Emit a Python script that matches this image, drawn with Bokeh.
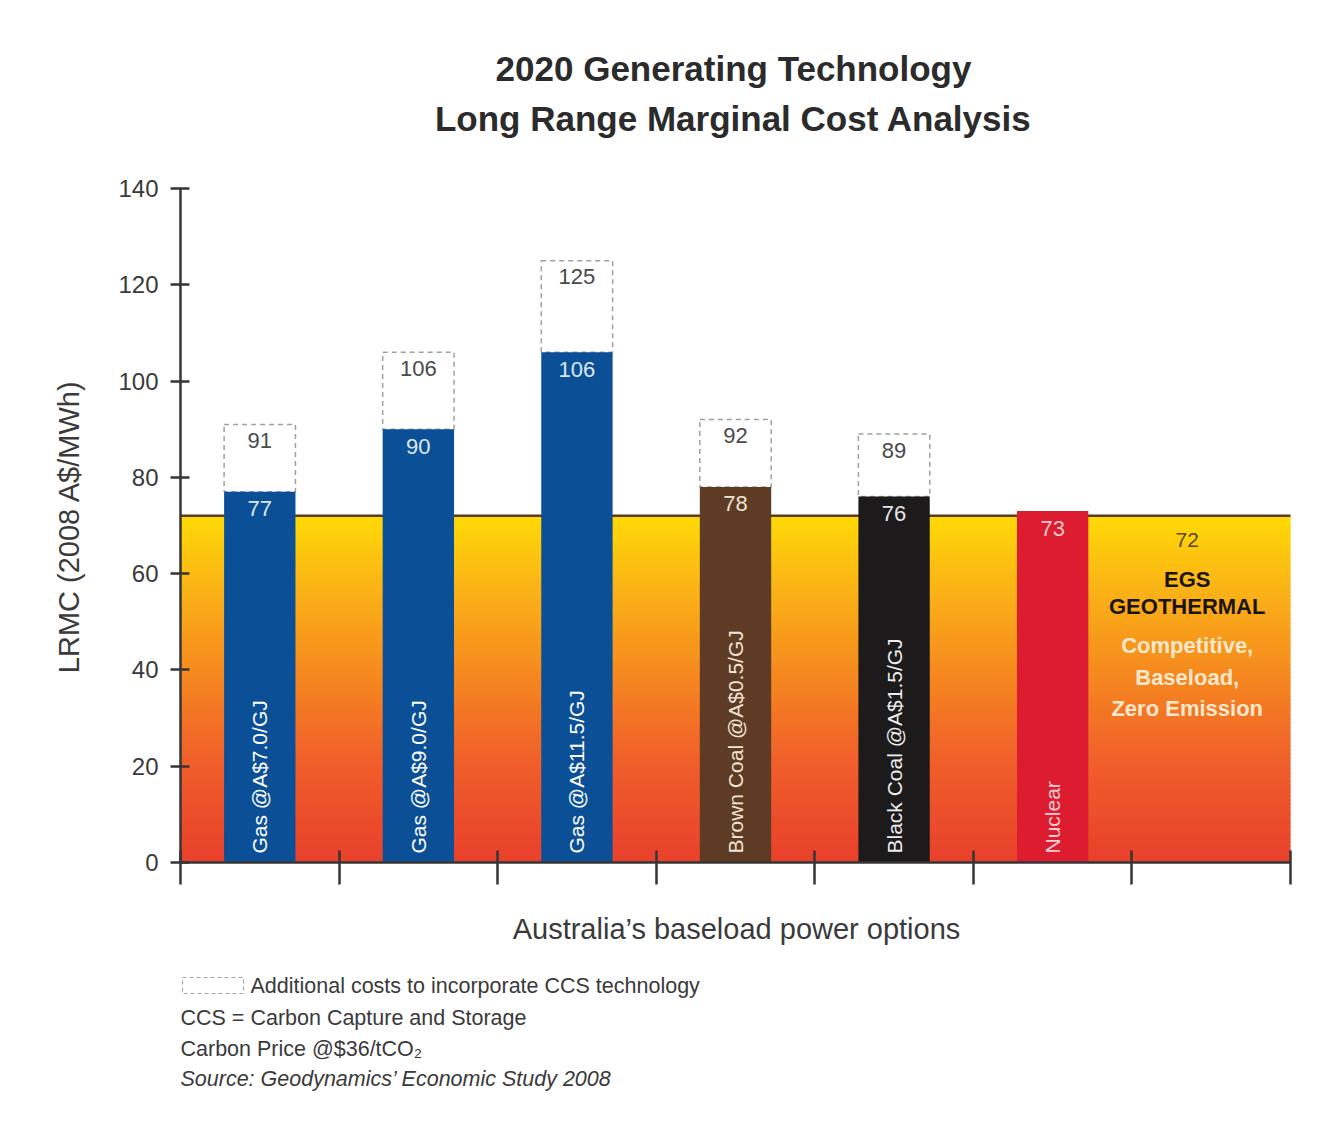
import numpy as np
from bokeh.plotting import figure
from bokeh.models import Range1d, FixedTicker
from bokeh.core.properties import value
from bokeh.embed import file_html
from bokeh.resources import INLINE

# ---------------- data ----------------
categories = ["Gas @A$7.0/GJ", "Gas @A$9.0/GJ", "Gas @A$11.5/GJ",
              "Brown Coal @A$0.5/GJ", "Black Coal @A$1.5/GJ", "Nuclear", "EGS Geothermal"]
lrmc = [77, 90, 106, 78, 76, 73, 72]            # LRMC (2008 A$/MWh)
lrmc_ccs = [91, 106, 125, 92, 89, None, None]   # with CCS
y_ticks = [0, 20, 40, 60, 80, 100, 120, 140]
egs_title = ["EGS", "GEOTHERMAL"]
egs_claims = ["Competitive,", "Baseload,", "Zero Emission"]
title_lines = ["2020 Generating Technology", "Long Range Marginal Cost Analysis"]
x_title = "Australia\u2019s baseload power options"
y_title = "LRMC (2008 A$/MWh)"
notes = ["Additional costs to incorporate CCS technology",
         "CCS = Carbon Capture and Storage",
         "Carbon Price @$36/tCO\u2082",
         "Source: Geodynamics\u2019 Economic Study 2008"]

# ---------------- style / layout ----------------
FONT = value("Liberation Sans")
bar_colors = ["#0b4f97", "#0b4f97", "#0b4f97", "#5d3b24", "#1c1a1a", "#dd1c2f"]
value_colors = ["#dce8f6", "#dce8f6", "#dce8f6", "#efe1d0", "#e4e4e4", "#f6c8ce"]
name_colors = ["#ffffff", "#ffffff", "#ffffff", "#f1e4d4", "#ececec", "#f8cdd3"]
grad_stops = [(0.0, "#e8402b"), (0.3, "#f0602a"), (0.55, "#f68a1f"),
              (0.8, "#fbb516"), (1.0, "#ffda06")]
axis_col = "#353535"
text_col = "#3a3a3a"
n_cat = len(categories)
y_max = y_ticks[-1]

W, H = 1309, 1105               # canvas size
PX0, PY0 = 0, 0                 # where the canvas lands in the screenshot
AX_L, AX_R = 180, 1290          # screenshot px of x=0 and x=n_cat
AX_B, AX_T = 862, 188           # screenshot px of y=0 and y=y_max
sx = (AX_R - AX_L) / n_cat
sy = (AX_B - AX_T) / y_max
x0 = -(AX_L - PX0) / sx
x1 = x0 + W / sx
y1 = y_max + (AX_T - PY0) / sy
y0 = y1 - H / sy


def px2x(px):
    return x0 + (px - PX0) / sx


def px2y(py):
    return y1 - (py - PY0) / sy


p = figure(width=W, height=H, output_backend="svg", toolbar_location=None,
           x_range=Range1d(x0, x1), y_range=Range1d(y0, y1), min_border=0)
p.title.visible = False
p.outline_line_color = None
p.xgrid.visible = False
p.ygrid.visible = False
p.background_fill_color = "white"
p.border_fill_color = "white"

# gradient band up to EGS level
def hex2rgb(h):
    return np.array([int(h[i:i + 2], 16) for i in (1, 3, 5)], dtype=float)

n_strips = 90
egs_level = lrmc[-1]
edges = np.linspace(0, egs_level, n_strips + 1)
fr = [s[0] for s in grad_stops]
rgbs = np.array([hex2rgb(s[1]) for s in grad_stops])
strip_cols = []
for k in range(n_strips):
    f = (k + 0.5) / n_strips
    c = [np.interp(f, fr, rgbs[:, j]) for j in range(3)]
    strip_cols.append("#%02x%02x%02x" % tuple(int(round(v)) for v in c))
strip_tops = np.minimum(edges[1:] + 0.35, egs_level)
p.quad(left=0, right=n_cat, bottom=edges[:-1], top=strip_tops,
       fill_color=strip_cols, line_color=None)
p.segment(x0=0, x1=n_cat, y0=egs_level, y1=egs_level, line_color="#5b3b1e", line_width=2.5)

# bars
xs = [i + 0.5 for i in range(n_cat - 1)]
bw = 0.45
ccs_idx = [i for i in range(len(xs)) if lrmc_ccs[i] is not None]
p.quad(left=[xs[i] - bw / 2 for i in ccs_idx], right=[xs[i] + bw / 2 for i in ccs_idx],
       bottom=[lrmc[i] for i in ccs_idx], top=[lrmc_ccs[i] for i in ccs_idx],
       fill_color="white", line_color="#a0a0a0", line_dash="5 4", line_width=1.5)
p.vbar(x=xs, width=bw, bottom=0, top=lrmc[:len(xs)], fill_color=bar_colors, line_color=None)

# value labels
p.text(x=xs, y=lrmc[:len(xs)], text=[str(v) for v in lrmc[:len(xs)]],
       text_align="center", text_baseline="middle", y_offset=17,
       text_font=FONT, text_font_size="22px", text_color=value_colors)
p.text(x=[xs[i] for i in ccs_idx], y=[lrmc_ccs[i] for i in ccs_idx],
       text=[str(lrmc_ccs[i]) for i in ccs_idx],
       text_align="center", text_baseline="middle", y_offset=16,
       text_font=FONT, text_font_size="22px", text_color="#4a4a4a")
# rotated category names
p.text(x=xs, y=[0] * len(xs), text=categories[:len(xs)], angle=np.pi / 2,
       text_align="left", text_baseline="middle", y_offset=-9,
       text_font=FONT, text_font_size="21px", text_color=name_colors)

# EGS annotation
egs_x = n_cat - 0.5
egs_dx = -24
p.text(x=[egs_x], y=[egs_level], text=[str(egs_level)], text_align="center",
       text_baseline="middle", x_offset=egs_dx, y_offset=24, text_font=FONT,
       text_font_size="21px", text_color="#5b4a14")
p.text(x=[egs_x] * 2, y=[egs_level] * 2, text=egs_title, text_align="center",
       text_baseline="middle", x_offset=egs_dx, y_offset=[64, 91], text_font=FONT,
       text_font_size="22px", text_font_style="bold", text_color="#1a1410")
p.text(x=[egs_x] * 3, y=[egs_level] * 3, text=egs_claims, text_align="center",
       text_baseline="middle", x_offset=egs_dx, y_offset=[130, 162, 193], text_font=FONT,
       text_font_size="22px", text_font_style="bold", text_color="#fce8cc")

# axes (real Bokeh axes, pinned at the data origin)
p.yaxis.fixed_location = 0
p.xaxis.fixed_location = 0
p.yaxis.bounds = (0, y_max)
p.xaxis.bounds = (0, n_cat)
p.yaxis.ticker = FixedTicker(ticks=y_ticks)
p.xaxis.ticker = FixedTicker(ticks=list(range(n_cat + 1)))
for ax in (p.xaxis[0], p.yaxis[0]):
    ax.axis_line_color = axis_col
    ax.axis_line_width = 2.5
    ax.major_tick_line_color = axis_col
    ax.major_tick_line_width = 2.5
    ax.minor_tick_line_color = None
p.yaxis.major_tick_in = 9
p.yaxis.major_tick_out = 10
p.yaxis.major_label_standoff = 12
p.yaxis.major_label_text_font = "Liberation Sans"
p.yaxis.major_label_text_font_size = "24px"
p.yaxis.major_label_text_color = text_col
p.xaxis.major_tick_in = 12
p.xaxis.major_tick_out = 22
p.xaxis.major_label_text_color = None

# titles, axis titles and notes
p.text(x=[px2x(733)] * 2, y=[px2y(68), px2y(118)], text=title_lines,
       text_align="center", text_baseline="middle", text_font=FONT,
       text_font_size="35px", text_font_style="bold", text_color="#2b2b2b")
p.text(x=[px2x(736)], y=[px2y(928)], text=[x_title], text_align="center",
       text_baseline="middle", text_font=FONT, text_font_size="29px", text_color=text_col)
p.text(x=[px2x(68)], y=[px2y(526)], text=[y_title], angle=np.pi / 2,
       text_align="center", text_baseline="middle", text_font=FONT,
       text_font_size="29px", text_color=text_col)
p.quad(left=px2x(182), right=px2x(243), bottom=px2y(993), top=px2y(977),
       fill_color=None, line_color="#a8a8a8", line_dash="4 3", line_width=1.2)
note_x = [250, 180, 180, 180]
note_y = [985, 1017, 1048, 1078]
note_style = ["normal", "normal", "normal", "italic"]
p.text(x=[px2x(v) for v in note_x], y=[px2y(v) for v in note_y], text=notes,
       text_align="left", text_baseline="middle", text_font=FONT,
       text_font_size="21.5px", text_font_style=note_style, text_color=text_col)

open("out.html", "w").write(file_html(p, INLINE))
